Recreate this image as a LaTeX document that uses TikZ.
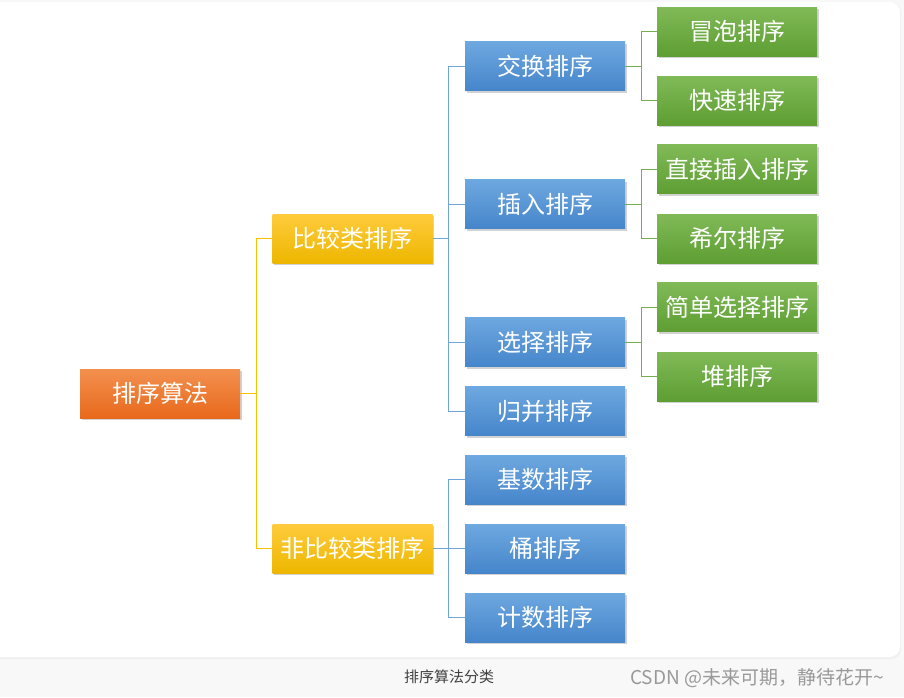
\documentclass[tikz,border=0pt]{standalone}
\usepackage{fontspec}
\setmainfont{Noto Sans CJK SC}
\usetikzlibrary{shadows}
\definecolor{pagegrey}{HTML}{F8F8F8}
\definecolor{orangetop}{HTML}{F3904F}
\definecolor{orangebot}{HTML}{E8691C}
\definecolor{yellowtop}{HTML}{FFCB3C}
\definecolor{yellowbot}{HTML}{EDB700}
\definecolor{bluetop}{HTML}{6EA8E0}
\definecolor{bluebot}{HTML}{4585CA}
\definecolor{greentop}{HTML}{80BA57}
\definecolor{greenbot}{HTML}{5E9E33}
\definecolor{yline}{HTML}{F7C100}
\definecolor{bline}{HTML}{6FA6DA}
\definecolor{gline}{HTML}{78AE4D}
\tikzset{
  box/.style={minimum width=160pt, minimum height=49pt, inner sep=0pt,
    text=white, font=\fontsize{24}{27}\selectfont,
    drop shadow={opacity=0.35, shadow xshift=1.5pt, shadow yshift=-2pt}},
  rootbox/.style={box, top color=orangetop, bottom color=orangebot},
  catbox/.style={box, top color=yellowtop, bottom color=yellowbot},
  groupbox/.style={box, top color=bluetop, bottom color=bluebot},
  leafbox/.style={box, top color=greentop, bottom color=greenbot},
  yedge/.style={draw=yline, line width=1pt},
  bedge/.style={draw=bline, line width=1pt},
  gedge/.style={draw=gline, line width=1pt}
}
\begin{document}
\begin{tikzpicture}[x=1pt,y=-1pt]
  \useasboundingbox (0,0) rectangle (904,697);
  % page and card
  \fill[pagegrey] (0,0) rectangle (904,697);
  \fill[black!6, rounded corners=10pt] (-20,2) rectangle (901,659);
  \fill[white, rounded corners=10pt] (-20,2) rectangle (900,657);

  % root and categories
  \node[rootbox] (sort) at (160,393.5) {排序算法};
  \node[catbox] (cmp) at (352.5,238.5) {比较类排序};
  \node[catbox] (noncmp) at (352.5,548.5) {非比较类排序};

  % groups
  \node[groupbox] (swap) at (545,66) {交换排序};
  \node[groupbox] (insert) at (545,204) {插入排序};
  \node[groupbox] (select) at (545,342) {选择排序};
  \node[groupbox] (merge) at (545,411) {归并排序};
  \node[groupbox] (radix) at (545,479.5) {基数排序};
  \node[groupbox] (bucket) at (545,548.5) {桶排序};
  \node[groupbox] (count) at (545,617.5) {计数排序};

  % leaves
  \node[leafbox] (bubble) at (737,31.5) {冒泡排序};
  \node[leafbox] (quick) at (737,100.5) {快速排序};
  \node[leafbox] (straight) at (737,169) {直接插入排序};
  \node[leafbox] (shell) at (737,238.5) {希尔排序};
  \node[leafbox] (simple) at (737,307) {简单选择排序};
  \node[leafbox] (heap) at (737,376.5) {堆排序};

  % connectors
  \foreach \c in {cmp,noncmp}
    \draw[yedge] (sort.east) -- ++(16,0) |- (\c.west);
  \foreach \g in {swap,insert,select,merge}
    \draw[bedge] (cmp.east) -- ++(16,0) |- (\g.west);
  \foreach \g in {radix,bucket,count}
    \draw[bedge] (noncmp.east) -- ++(16,0) |- (\g.west);
  \foreach \a/\b in {swap/bubble,swap/quick,insert/straight,insert/shell,select/simple,select/heap}
    \draw[gedge] (\a.east) -- ++(16,0) |- (\b.west);

  % caption and watermark
  \node[text=black!75, font=\fontsize{15}{17}\selectfont] (caption) at (449,677) {排序算法分类};
  \node[text=black!40, font=\fontsize{19}{21}\selectfont] (mark) at (757,678) {CSDN @未来可期，静待花开\textasciitilde};
\end{tikzpicture}
\end{document}
